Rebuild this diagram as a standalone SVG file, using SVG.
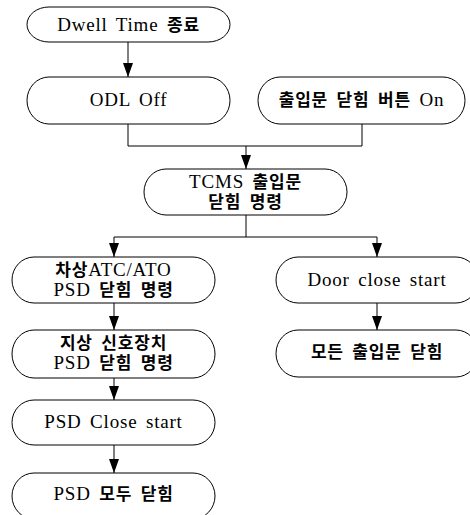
<svg xmlns="http://www.w3.org/2000/svg" width="470" height="515" viewBox="0 0 470 515">
<style>
.n rect{fill:#fff;stroke:#000;stroke-width:1}
.t{font-family:"Liberation Serif","Noto Sans CJK KR",serif;font-size:19px;letter-spacing:0.8px;word-spacing:3px;text-anchor:middle;fill:#000}
.k{font-weight:bold;font-size:17px}
.c line,.c path{stroke:#000;stroke-width:1;fill:none}
</style>
<defs>
<marker id="ah" markerUnits="userSpaceOnUse" markerWidth="14" markerHeight="10" refX="14" refY="5" orient="auto">
<path d="M0,0 L14,5 L0,10 z" fill="#000"/>
</marker>
</defs>
<rect width="470" height="515" fill="#fff"/>
<g class="c">
<line x1="128" y1="42" x2="128" y2="77" marker-end="url(#ah)"/>
<path d="M128,124 V146 H362 V124"/>
<line x1="246" y1="146" x2="246" y2="169" marker-end="url(#ah)"/>
<path d="M246,215 V237 M114,237 H377"/>
<line x1="114" y1="237" x2="114" y2="257" marker-end="url(#ah)"/>
<line x1="377" y1="237" x2="377" y2="257" marker-end="url(#ah)"/>
<line x1="114" y1="303" x2="114" y2="330" marker-end="url(#ah)"/>
<line x1="377" y1="303" x2="377" y2="330" marker-end="url(#ah)"/>
<line x1="114" y1="378" x2="114" y2="400" marker-end="url(#ah)"/>
<line x1="114" y1="445" x2="114" y2="473" marker-end="url(#ah)"/>
</g>
<g id="dwell" class="n">
<rect x="27" y="7" width="203" height="35" rx="22" ry="17.5"/>
<text class="t" x="128.5" y="31">Dwell Time <tspan class="k">종료</tspan></text>
</g>
<g id="odl" class="n">
<rect x="27" y="77" width="203" height="47" rx="22" ry="23.5"/>
<text class="t" x="128.5" y="106">ODL Off</text>
</g>
<g id="button" class="n">
<rect x="258" y="77" width="207" height="47" rx="22" ry="23.5"/>
<text class="t" x="361.5" y="106"><tspan class="k">출입문</tspan> <tspan class="k">닫힘</tspan> <tspan class="k">버튼</tspan> On</text>
</g>
<g id="tcms" class="n">
<rect x="144" y="169" width="203" height="46" rx="22" ry="23"/>
<text class="t" x="245.5" y="187.5">TCMS <tspan class="k">출입문</tspan></text>
<text class="t" x="245.5" y="207.5"><tspan class="k">닫힘</tspan> <tspan class="k">명령</tspan></text>
</g>
<g id="atc" class="n">
<rect x="12" y="257" width="203" height="46" rx="22" ry="23"/>
<text class="t" x="113.5" y="275.5"><tspan class="k">차상</tspan>ATC/ATO</text>
<text class="t" x="113.5" y="295.5">PSD <tspan class="k">닫힘</tspan> <tspan class="k">명령</tspan></text>
</g>
<g id="doorstart" class="n">
<rect x="276" y="257" width="202" height="46" rx="22" ry="23"/>
<text class="t" x="377" y="286">Door close start</text>
</g>
<g id="ground" class="n">
<rect x="12" y="330" width="203" height="48" rx="22" ry="24"/>
<text class="t" x="113.5" y="348.5"><tspan class="k">지상</tspan> <tspan class="k">신호장치</tspan></text>
<text class="t" x="113.5" y="368.5">PSD <tspan class="k">닫힘</tspan> <tspan class="k">명령</tspan></text>
</g>
<g id="alldoors" class="n">
<rect x="276" y="330" width="202" height="47" rx="22" ry="23.5"/>
<text class="t" x="377" y="358"><tspan class="k">모든</tspan> <tspan class="k">출입문</tspan> <tspan class="k">닫힘</tspan></text>
</g>
<g id="psdstart" class="n">
<rect x="12" y="400" width="203" height="45" rx="22" ry="22.5"/>
<text class="t" x="113.5" y="428">PSD Close start</text>
</g>
<g id="psdall" class="n">
<rect x="12" y="473" width="203" height="46" rx="22" ry="23"/>
<text class="t" x="113.5" y="500">PSD <tspan class="k">모두</tspan> <tspan class="k">닫힘</tspan></text>
</g>
</svg>
